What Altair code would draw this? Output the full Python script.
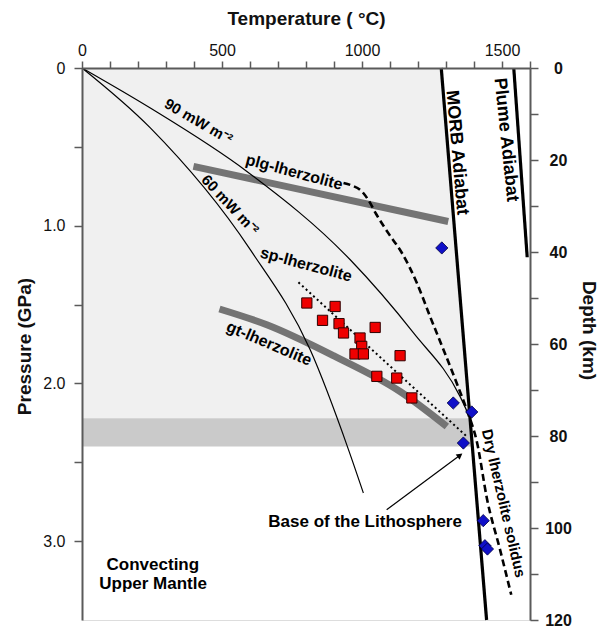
import altair as alt
import numpy as np
import pandas as pd

FONT = "Liberation Sans"
FRAME = "#5a5a5a"

# ---------------- axis extents / ticks ----------------
T_DOMAIN = [0, 1600]
P_DOMAIN = [0, 3.5]
DEPTH_DOMAIN = [0, 120]
t_ticks = list(range(0, 1700, 100))
p_ticks = [0, 0.5, 1.0, 1.5, 2.0, 2.5, 3.0]
d_ticks = list(range(0, 130, 10))

# ---------------- data (T in degC, P in GPa) ----------------
g90_T = [0, 244, 589, 958, 1184, 1350, 1379]
g90_P = [0, 0.254, 0.656, 1.216, 1.680, 2.082, 2.192]

g60_T = [0, 244, 601, 815, 952, 1005]
g60_P = [0, 0.380, 1.152, 1.787, 2.421, 2.695]

morb_T = [1283, 1445]
morb_P = [0, 3.5]

plume_T = [1542, 1590]
plume_P = [0, 1.2]

plg_T = [398, 1308]
plg_P = [0.624, 0.973]

gt_T = [491, 660, 898, 1136, 1303]
gt_P = [1.528, 1.628, 1.824, 2.051, 2.273]

dotted_T = [773, 1374]
dotted_P = [1.359, 2.336]

sol_T = [934, 965, 997, 1022, 1050, 1100, 1140, 1196, 1243, 1291, 1338, 1374, 1411, 1447, 1493, 1533]
sol_P = [0.729, 0.746, 0.778, 0.835, 0.924, 1.063, 1.165, 1.363, 1.575, 1.786, 1.997, 2.167, 2.376, 2.737, 3.054, 3.340]

lith_P = [0, 2.22]      # light grey lithosphere
band_P = [2.22, 2.40]   # base of lithosphere band

sq_T = [803, 904, 859, 918, 934, 1047, 993, 999, 975, 1005, 1136, 1053, 1124, 1178]
sq_P = [1.490, 1.512, 1.600, 1.621, 1.680, 1.645, 1.712, 1.765, 1.813, 1.813, 1.824, 1.955, 1.966, 2.092]

dia_T = [1285, 1326, 1392, 1362, 1433, 1439, 1448]
dia_P = [1.141, 2.124, 2.181, 2.378, 2.870, 3.029, 3.050]

arrow_T = [1088, 1350]
arrow_P = [2.801, 2.456]
arrow_head_angle = 53.5

lab_text = ["90 mW m\u207b\u00b2", "60 mW m\u207b\u00b2", "plg-lherzolite", "sp-lherzolite",
            "gt-lherzolite", "MORB Adiabat", "Plume Adiabat", "Dry lherzolite solidus",
            "Base of the Lithosphere", "Convecting", "Upper Mantle"]
lab_T = [416, 529, 758, 800, 668, 1339, 1514, 1506, 1011, 253, 254]
lab_P = [0.339, 0.867, 0.661, 1.247, 1.748, 0.537, 0.455, 2.760, 2.880, 3.153, 3.270]
lab_angle = [30, 47, 15, 15, 23, 85, 84, 77, 0, 0, 0]
lab_size = [15, 15, 16, 16, 16, 18, 18, 15, 17, 17, 17]

# ---------------- scales & axes ----------------
xs = alt.Scale(domain=T_DOMAIN, nice=False, zero=False)
ys = alt.Scale(domain=P_DOMAIN, reverse=True, nice=False, zero=False)

x_axis = alt.Axis(
    orient="top", values=t_ticks,
    labelExpr="datum.value % 500 === 0 ? format(datum.value, 'd') : ''",
    title="Temperature ( \u00b0C)", titleFont=FONT, titleFontSize=19, titleFontWeight="bold",
    titleColor="#111", titleY=-44, titleBaseline="alphabetic",
    labelFont=FONT, labelFontSize=16, labelColor="#111", labelPadding=6,
    labelBaseline="alphabetic", labelFlush=False, labelOverlap=False,
    tickSize=7, tickColor=FRAME, tickWidth=1.5, domainColor=FRAME, domainWidth=2,
    grid=False, zindex=1)

y_axis = alt.Axis(
    orient="left", values=p_ticks,
    labelExpr="datum.value === 0 ? '0' : (datum.value % 1 === 0 ? format(datum.value, '.1f') : '')",
    title="Pressure (GPa)", titleFont=FONT, titleFontSize=19, titleFontWeight="bold",
    titleColor="#111", titleAngle=270, titleX=-58, titleY=278, titleAlign="center",
    titleBaseline="middle",
    labelFont=FONT, labelFontSize=16, labelColor="#111", labelPadding=9,
    labelFlush=False, labelOverlap=False,
    tickSize=8, tickColor=FRAME, tickWidth=1.5, domainColor=FRAME, domainWidth=2,
    grid=False, zindex=1)

d_axis = alt.Axis(
    orient="right", values=d_ticks,
    labelExpr="datum.value % 20 === 0 ? format(datum.value, 'd') : ''",
    title="Depth (km)", titleFont=FONT, titleFontSize=19, titleFontWeight="bold",
    titleColor="#111", titleAngle=90, titleX=58, titleY=262, titleAlign="center",
    titleBaseline="middle",
    labelFont=FONT, labelFontSize=16, labelFontWeight="bold", labelColor="#111",
    labelAlign="center", labelPadding=20, labelFlush=False, labelOverlap=False,
    tickSize=8, tickColor=FRAME, tickWidth=1.5, domainColor=FRAME, domainWidth=2,
    grid=False, zindex=1)


def X(f):
    return alt.X(f"{f}:Q", scale=xs, axis=x_axis)


def Y(f):
    return alt.Y(f"{f}:Q", scale=ys, axis=y_axis)


def line_layer(T, P, **kw):
    df = pd.DataFrame({"T": T, "P": P, "i": list(range(len(T)))})
    return alt.Chart(df).mark_line(**kw).encode(x=X("T"), y=Y("P"), order="i:Q")


def region(Prange, color):
    Tr = np.interp(Prange, morb_P, morb_T)
    df = pd.DataFrame({"P": Prange, "Tr": Tr, "T0": [0] * len(Prange)})
    return alt.Chart(df).mark_area(orient="horizontal", color=color, opacity=1).encode(
        y=Y("P"), x=X("Tr"), x2=alt.X2("T0"))


lith = region(lith_P, "#f0f0f0")
band = region(band_P, "#cacaca")

plg = line_layer(plg_T, plg_P, color="#747474", strokeWidth=7, strokeCap="butt")
gt = line_layer(gt_T, gt_P, color="#747474", strokeWidth=7, strokeCap="butt", interpolate="monotone")
g90 = line_layer(g90_T, g90_P, color="black", strokeWidth=1.2, interpolate="monotone")
g60 = line_layer(g60_T, g60_P, color="black", strokeWidth=1.2, interpolate="monotone")
sol = line_layer(sol_T, sol_P, color="black", strokeWidth=2.6, strokeDash=[7, 4], interpolate="monotone")
dot = line_layer(dotted_T, dotted_P, color="black", strokeWidth=2, strokeDash=[2, 3])
morb = line_layer(morb_T, morb_P, color="black", strokeWidth=3.2)
plume = line_layer(plume_T, plume_P, color="black", strokeWidth=3.2)
arrow = line_layer(arrow_T, arrow_P, color="black", strokeWidth=1.2)

head = alt.Chart(pd.DataFrame({"T": [arrow_T[-1]], "P": [arrow_P[-1]]})).mark_point(
    shape="triangle-up", filled=True, color="black", size=45, opacity=1,
    angle=arrow_head_angle).encode(x=X("T"), y=Y("P"))

squares = alt.Chart(pd.DataFrame({"T": sq_T, "P": sq_P})).mark_square(
    size=105, color="#ee0000", stroke="#300000", strokeWidth=1, opacity=1).encode(
    x=X("T"), y=Y("P"))

diamonds = alt.Chart(pd.DataFrame({"T": dia_T, "P": dia_P})).mark_point(
    shape="diamond", filled=True, size=150, color="#1010c8", stroke="#000040",
    strokeWidth=0.8, opacity=1).encode(x=X("T"), y=Y("P"))

labels = alt.Chart(pd.DataFrame({"T": lab_T, "P": lab_P, "text": lab_text,
                                 "angle": lab_angle, "size": lab_size})).mark_text(
    font=FONT, fontWeight="bold", align="center", baseline="middle", color="black").encode(
    x=X("T"), y=Y("P"), text="text:N",
    angle=alt.Angle("angle:Q", scale=None),
    size=alt.Size("size:Q", scale=None))

main = alt.layer(lith, band, plg, gt, g90, g60, dot, sol, morb, plume,
                 arrow, head, squares, diamonds, labels)

depth = alt.Chart(pd.DataFrame({"depth": DEPTH_DOMAIN})).mark_point(opacity=0).encode(
    y=alt.Y("depth:Q", scale=alt.Scale(domain=DEPTH_DOMAIN, reverse=True, nice=False, zero=False),
            axis=d_axis),
    x=alt.value(0))

chart = alt.layer(main, depth).resolve_scale(y="independent").properties(
    width=448, height=552,
    padding={"left": 82, "top": 68, "right": 69, "bottom": 7},
    autosize=alt.AutoSizeParams(type="none"),
    background="white",
).configure_view(stroke=FRAME, strokeWidth=2).configure(font=FONT)

chart.save("out.html", embed_options={"renderer": "svg", "actions": False})
